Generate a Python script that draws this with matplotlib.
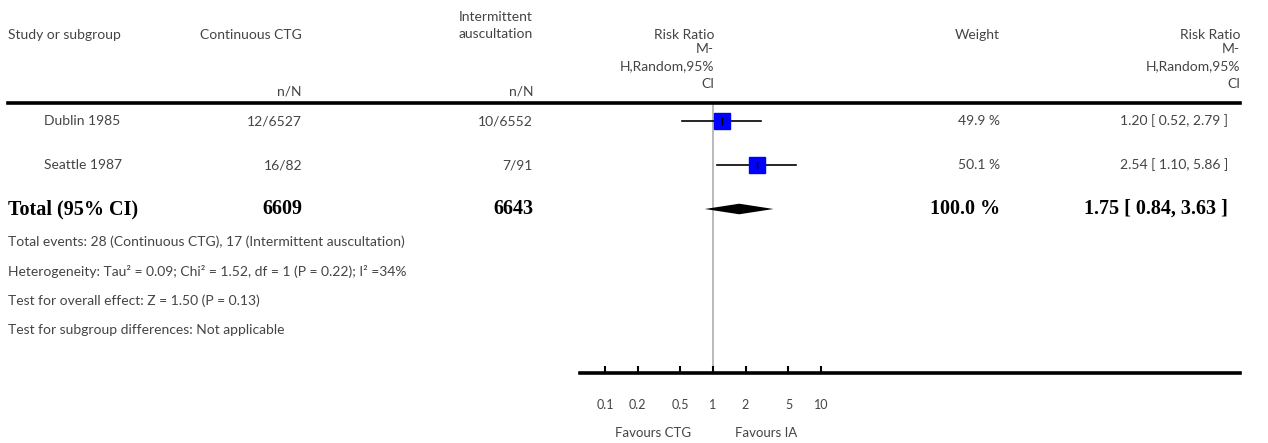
import numpy as np
import matplotlib
matplotlib.use("Agg")
import matplotlib.pyplot as plt
from matplotlib.lines import Line2D
from matplotlib.transforms import blended_transform_factory

# data
studies = ["Dublin 1985", "Seattle 1987"]
ctg_nN = ["12/6527", "16/82"]
ia_nN = ["10/6552", "7/91"]
rr = [1.20, 2.54]
ci_low = [0.52, 1.10]
ci_high = [2.79, 5.86]
weights = [49.9, 50.1]
total_ctg = 6609
total_ia = 6643
total_rr = 1.75
total_low = 0.84
total_high = 3.63
ticks = [0.1, 0.2, 0.5, 1, 2, 5, 10]
tick_labels = ["0.1", "0.2", "0.5", "1", "2", "5", "10"]
footnotes = [
    "Total events: 28 (Continuous CTG), 17 (Intermittent auscultation)",
    "Heterogeneity: Tau² = 0.09; Chi² = 1.52, df = 1 (P = 0.22); I² =34%",
    "Test for overall effect: Z = 1.50 (P = 0.13)",
    "Test for subgroup differences: Not applicable",
]

W, H = 1268, 443
FONT = "Lato"
GREY = "#444444"
plt.rcParams["font.family"] = [FONT, "DejaVu Sans"]

fig = plt.figure(figsize=(W / 100, H / 100), dpi=100)


def px(x, y):
    return x / W, 1 - y / H


# forest axes: log scale, 0.1..10 spans 605..821 px
ax_top, ax_bot = 104, 373
ax = fig.add_axes([605 / W, 1 - ax_bot / H, 216 / W, (ax_bot - ax_top) / H])
ax.set_xscale("log")
ax.set_xlim(0.1, 10)
row_px = 44.0
ax.set_ylim((ax_bot - 121) / row_px, (ax_top - 121) / row_px)
for s in ax.spines.values():
    s.set_visible(False)
ax.patch.set_visible(False)
ax.set_yticks([])
ax.set_xticks(ticks)
ax.set_xticklabels(tick_labels)
ax.minorticks_off()
ax.tick_params(axis="x", direction="in", length=5, width=1.5, pad=19,
               labelsize=9, labelcolor=GREY)

ax.axvline(1, color="#b4b4b4", lw=1.3, zorder=1)

for i in range(len(studies)):
    ax.plot([ci_low[i], ci_high[i]], [i, i], color="black", lw=1.2, zorder=2)
    ax.plot(rr[i], i, marker="s", ms=11, color="#0000ff", mec="#0000ff",
            zorder=3)
    ax.plot(rr[i], i, marker="|", ms=6, color="black", mew=1, zorder=4)

yt = len(studies)
ax.fill([total_low, total_rr, total_high, total_rr],
        [yt, yt - 0.12, yt, yt + 0.12], color="black", lw=0, zorder=3)

# rules
fig.add_artist(Line2D([8 / W, 1240 / W], [1 - 103 / H] * 2, color="black",
                      lw=2.6))
fig.add_artist(Line2D([580 / W, 1240 / W], [1 - 373 / H] * 2, color="black",
                      lw=2.6))

# headers
fs = 10
hdr = dict(fontsize=fs, color=GREY, va="center")
fig.text(*px(8, 35), "Study or subgroup", ha="left", **hdr)
fig.text(*px(302, 35), "Continuous CTG", ha="right", **hdr)
fig.text(*px(533, 17), "Intermittent", ha="right", **hdr)
fig.text(*px(533, 34), "auscultation", ha="right", **hdr)
fig.text(*px(302, 92), "n/N", ha="right", **hdr)
fig.text(*px(533, 92), "n/N", ha="right", **hdr)
for xr in (714, 1240):
    fig.text(*px(xr, 35), "Risk Ratio", ha="right", **hdr)
    fig.text(*px(xr, 49), "M-", ha="right", **hdr)
    fig.text(*px(xr, 66), "H,Random,95%", ha="right", **hdr)
    fig.text(*px(xr, 84), "CI", ha="right", **hdr)
fig.text(*px(1000, 35), "Weight", ha="right", **hdr)

# study rows
tr = blended_transform_factory(fig.transFigure, ax.transData)
for i, name in enumerate(studies):
    kw = dict(transform=tr, fontsize=fs, color=GREY, va="center")
    fig.text(44 / W, i, name, ha="left", **kw)
    fig.text(302 / W, i, ctg_nN[i], ha="right", **kw)
    fig.text(533 / W, i, ia_nN[i], ha="right", **kw)
    fig.text(1000 / W, i, f"{weights[i]:.1f} %", ha="right", **kw)
    fig.text(1228 / W, i,
             f"{rr[i]:.2f} [ {ci_low[i]:.2f}, {ci_high[i]:.2f} ]",
             ha="right", **kw)

bk = dict(transform=tr, fontsize=14.5, color="black", va="center",
          family="Liberation Serif", weight="bold")
fig.text(8 / W, yt, "Total (95% CI)", ha="left", **bk)
fig.text(302 / W, yt, str(total_ctg), ha="right", **bk)
fig.text(533 / W, yt, str(total_ia), ha="right", **bk)
fig.text(1000 / W, yt, f"{sum(weights):.1f} %", ha="right", **bk)
fig.text(1228 / W, yt,
         f"{total_rr:.2f} [ {total_low:.2f}, {total_high:.2f} ]",
         ha="right", **bk)

for j, note in enumerate(footnotes):
    fig.text(*px(8, 242 + 29.3 * j), note, ha="left", **hdr)

fig.text(*px(653, 433), "Favours CTG", ha="center", fontsize=9.5, color=GREY,
         va="center")
fig.text(*px(766, 433), "Favours IA", ha="center", fontsize=9.5, color=GREY,
         va="center")

fig.savefig("out.png", dpi=100)
